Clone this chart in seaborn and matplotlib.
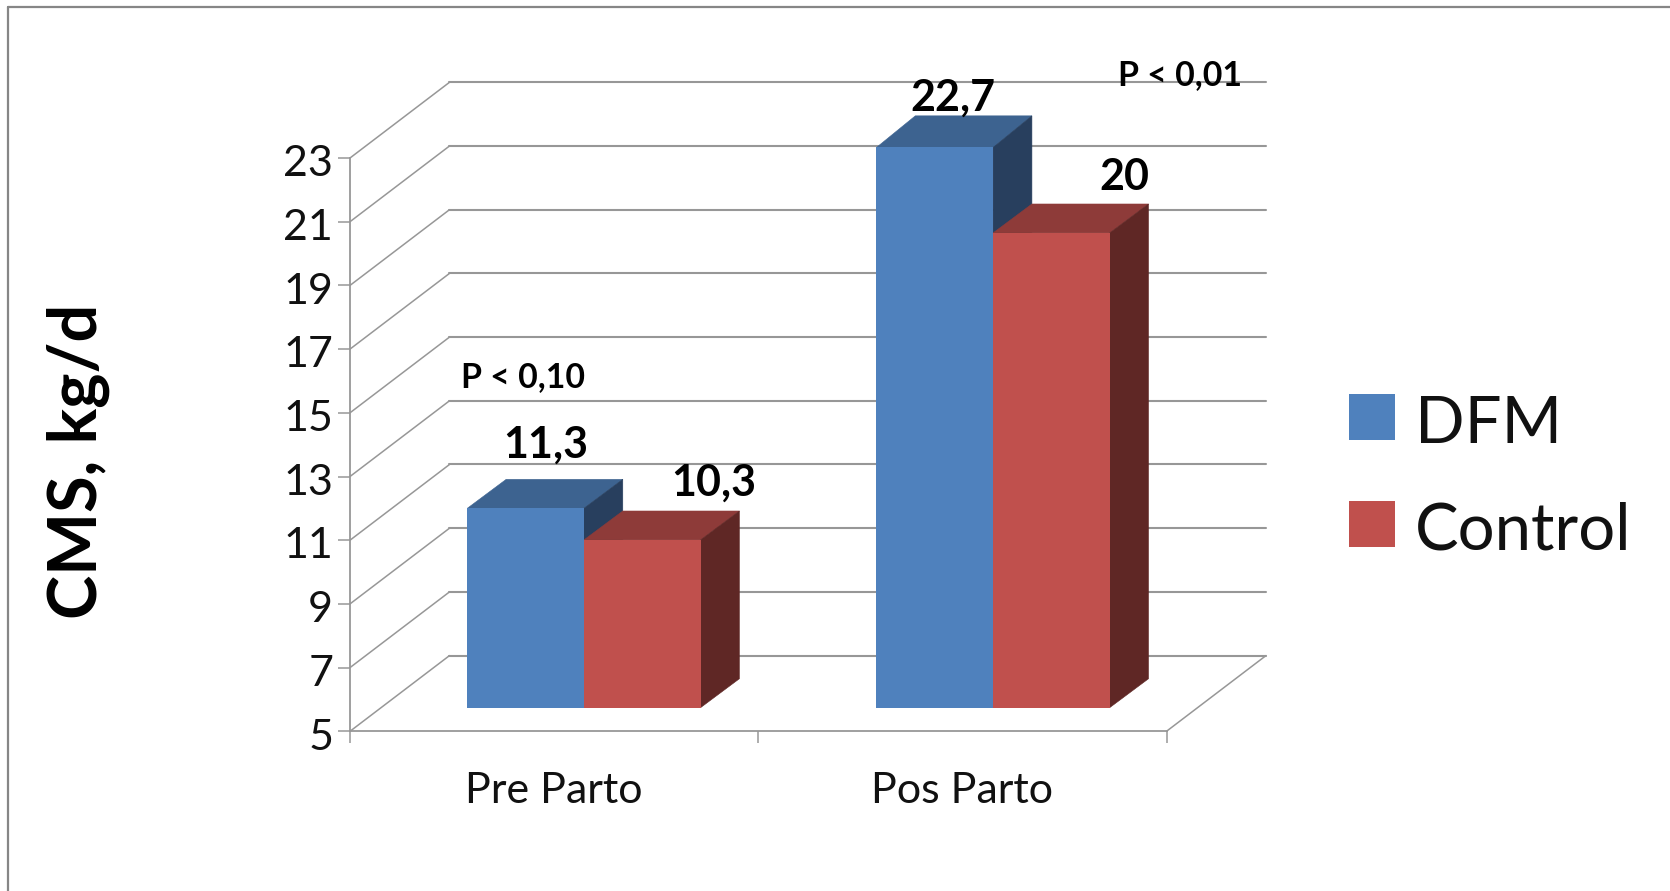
import matplotlib
matplotlib.use("Agg")
import matplotlib.pyplot as plt
import pandas as pd
import seaborn as sns
from matplotlib.lines import Line2D
from matplotlib.patches import Polygon, Patch
from matplotlib.transforms import ScaledTranslation

# Intake by period and treatment
periods = ["Pre Parto", "Pos Parto"]
treatments = ["DFM", "Control"]
dfm_values = [11.3, 22.7]
control_values = [10.3, 20.0]
value_labels = ["11,3", "22,7", "10,3", "20"]
y_ticks = [5, 7, 9, 11, 13, 15, 17, 19, 21, 23]
p_labels = ["P < 0,10", "P < 0,01"]

# Face colours for each treatment: front, top, side
front_colors = ["#4F81BD", "#C0504D"]
top_colors = ["#3D6390", "#8E3B39"]
side_colors = ["#283F5E", "#5F2725"]
line_color = "#979797"

W, H = 1670, 891
sns.set_theme(style="white")
plt.rcParams["font.family"] = ["Lato", "DejaVu Sans"]


def axes_box(left, top, right, bottom):
    return [left / W, 1 - bottom / H, (right - left) / W, (bottom - top) / H]


fig = plt.figure(figsize=(W / 100, H / 100), dpi=100, facecolor="white")

# Outer frame: only the top and left edges show
fig.add_artist(Line2D([7.5 / W, 7.5 / W], [0, 1 - 6.5 / H], color="#868686", lw=1.6))
fig.add_artist(Line2D([7.5 / W, 1], [1 - 6.5 / H, 1 - 6.5 / H], color="#868686", lw=1.6))

# Front plane of the box: value axis, category axis, walls and floor
ax = fig.add_axes(axes_box(350, 158, 1166.5, 731.3))
ax.set_xlim(-0.5, 1.5)
ax.set_ylim(5, 23)
ax.patch.set_alpha(0)
for side in ("top", "right"):
    ax.spines[side].set_visible(False)
for side in ("left", "bottom"):
    ax.spines[side].set_color(line_color)
    ax.spines[side].set_linewidth(1.3)

wall_dx, wall_dy = 0.2437, 2.377
for v in y_ticks:
    ax.plot([-0.5, -0.5 + wall_dx], [v, v + wall_dy], color=line_color, lw=1.1,
            clip_on=False, zorder=1)
    ax.plot([-0.5 + wall_dx, 1.5 + wall_dx], [v + wall_dy, v + wall_dy],
            color=line_color, lw=1.5, clip_on=False, zorder=1)
ax.plot([1.5, 1.5 + wall_dx], [5, 5 + wall_dy], color=line_color, lw=1.1,
        clip_on=False, zorder=1)

ax.set_yticks(y_ticks)
ax.set_xticks([-0.5, 0.5, 1.5])
ax.set_xticklabels([])
ax.set_xticks([0, 1], periods, minor=True)
ax.tick_params(axis="x", which="major", length=8.6, width=1.1, color=line_color, bottom=True)
ax.tick_params(axis="x", which="minor", length=0, labelsize=31, pad=29, labelcolor="#111111", bottom=False)
ax.tick_params(axis="y", length=8.6, width=1.1, color=line_color, labelsize=31,
               pad=3.5, labelcolor="#111111", left=True)
ax.set_xlabel("")
ax.set_ylabel("")
for label in ax.get_yticklabels():
    label.set_transform(label.get_transform() + ScaledTranslation(0, -2 / 72, fig.dpi_scale_trans))

# Bars sit part way along the depth of the floor, on their own plane
ax_bars = fig.add_axes(axes_box(379.35, 138, 1197.6, 707.7))
data = pd.DataFrame({
    "period": periods * 2,
    "treatment": [treatments[0]] * 2 + [treatments[1]] * 2,
    "value": dfm_values + control_values,
})
sns.barplot(data=data, x="period", y="value", hue="treatment", order=periods,
            hue_order=treatments, palette=front_colors, saturation=1, width=0.57,
            gap=0, dodge=True, legend=False, ax=ax_bars, linewidth=0)
ax_bars.set_xlim(-0.5, 1.5)
ax_bars.set_ylim(5, 23)
ax_bars.axis("off")

depth_x = 0.095
depth_y = [0.915, 1.0, 0.915, 0.915]
bars = list(ax_bars.patches)
n_periods = len(periods)
for i, bar in enumerate(bars):
    t = i // n_periods
    x0, x1 = bar.get_x(), bar.get_x() + bar.get_width()
    top = bar.get_height()
    base = 5
    order = 2 + t * 2
    ax_bars.add_patch(Polygon(
        [(x0, top), (x1, top), (x1 + depth_x, top + depth_y[i]), (x0 + depth_x, top + depth_y[i])],
        facecolor=top_colors[t], edgecolor=top_colors[t], lw=0.4, zorder=order, clip_on=False))
    ax_bars.add_patch(Polygon(
        [(x1, base), (x1, top), (x1 + depth_x, top + depth_y[i]), (x1 + depth_x, base + 0.915)],
        facecolor=side_colors[t], edgecolor=side_colors[t], lw=0.4, zorder=order + 1, clip_on=False))
    bar.set_zorder(7 + t)

# Value labels above each bar, nudged clear of the top faces
label_offsets = [(20, 64), (18, 50), (72, 57), (73.5, 56)]
for bar, text, (ox, oy) in zip(bars, value_labels, label_offsets):
    ax_bars.annotate(text, (bar.get_x() + bar.get_width() / 2, bar.get_height()),
                     xytext=(ox * 0.72, oy * 0.72), textcoords="offset points",
                     ha="center", va="center", fontsize=31, fontweight="bold",
                     color="black", zorder=12, annotation_clip=False)

fig.text(523 / W, 1 - 377 / H, p_labels[0], ha="center", va="center",
         fontsize=24.4, fontweight="bold", color="black")
fig.text(1180 / W, 1 - 75.5 / H, p_labels[1], ha="center", va="center",
         fontsize=24.4, fontweight="bold", color="black")

fig.text(78.5 / W, 1 - 461 / H, "CMS, kg/d", rotation=90, ha="center", va="center",
         fontsize=48, fontweight="bold", color="black")

handles = [Patch(facecolor=c, edgecolor="none", label=name)
           for c, name in zip(front_colors, treatments)]
legend = fig.legend(handles=handles, loc="upper left", bbox_to_anchor=(1349 / W, 1 - 392 / H),
                    frameon=False, fontsize=47, handlelength=0.705, handleheight=0.705,
                    handletextpad=0.31, labelspacing=0.73, borderpad=0, borderaxespad=0,
                    labelcolor="#111111")
for entry in legend.get_texts():
    entry.set_y(-3)

fig.savefig("out.png", dpi=100, facecolor="white")
